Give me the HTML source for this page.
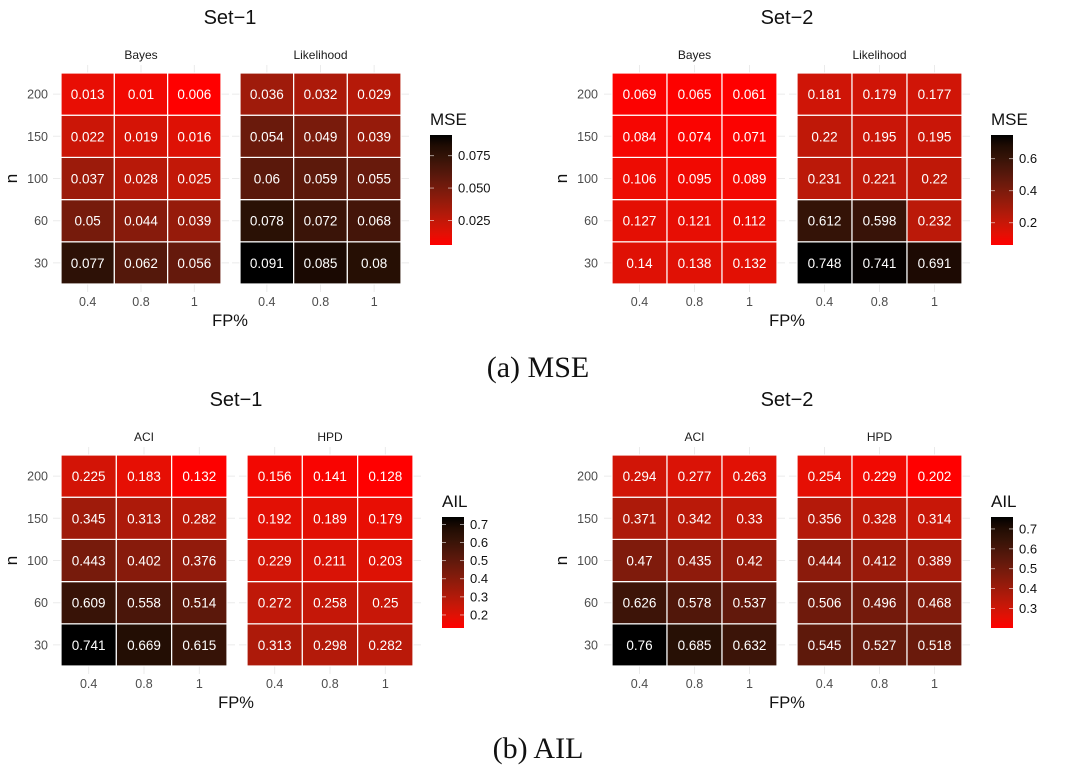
<!DOCTYPE html>
<html><head><meta charset="utf-8">
<style>
html,body{margin:0;padding:0;background:#fff;}
svg{display:block;font-family:"Liberation Sans",sans-serif;}
</style></head>
<body>
<svg id="fig" width="1083" height="774" viewBox="0 0 1083 774">
<text x="538" y="377" text-anchor="middle" font-family="Liberation Serif,serif" font-size="30" fill="#111">(a) MSE</text>
<text x="538" y="758" text-anchor="middle" font-family="Liberation Serif,serif" font-size="30" fill="#111">(b) AIL</text>
</svg>
<script>
const nLevels = ["30","60","100","150","200"];
const fpLevels = ["0.4","0.8","1"];
// values indexed [row n: 30,60,100,150,200][col fp: 0.4,0.8,1]
const mse1Bayes = [[0.077,0.062,0.056],[0.05,0.044,0.039],[0.037,0.028,0.025],[0.022,0.019,0.016],[0.013,0.01,0.006]];
const mse1Lik   = [[0.091,0.085,0.08],[0.078,0.072,0.068],[0.06,0.059,0.055],[0.054,0.049,0.039],[0.036,0.032,0.029]];
const mse2Bayes = [[0.14,0.138,0.132],[0.127,0.121,0.112],[0.106,0.095,0.089],[0.084,0.074,0.071],[0.069,0.065,0.061]];
const mse2Lik   = [[0.748,0.741,0.691],[0.612,0.598,0.232],[0.231,0.221,0.22],[0.22,0.195,0.195],[0.181,0.179,0.177]];
const ail1ACI = [[0.741,0.669,0.615],[0.609,0.558,0.514],[0.443,0.402,0.376],[0.345,0.313,0.282],[0.225,0.183,0.132]];
const ail1HPD = [[0.313,0.298,0.282],[0.272,0.258,0.25],[0.229,0.211,0.203],[0.192,0.189,0.179],[0.156,0.141,0.128]];
const ail2ACI = [[0.76,0.685,0.632],[0.626,0.578,0.537],[0.47,0.435,0.42],[0.371,0.342,0.33],[0.294,0.277,0.263]];
const ail2HPD = [[0.545,0.527,0.518],[0.506,0.496,0.468],[0.444,0.412,0.389],[0.356,0.328,0.314],[0.254,0.229,0.202]];
const legendTicks1 = [0.025,0.05,0.075];
const legendTickLabels1 = ["0.025","0.050","0.075"];
const legendTicks2 = [0.2,0.4,0.6];
const legendTickLabels2 = ["0.2","0.4","0.6"];
const legendTicks3 = [0.2,0.3,0.4,0.5,0.6,0.7];
const legendTickLabels3 = ["0.2","0.3","0.4","0.5","0.6","0.7"];
const legendTicks4 = [0.3,0.4,0.5,0.6,0.7];
const legendTickLabels4 = ["0.3","0.4","0.5","0.6","0.7"];

const NS="http://www.w3.org/2000/svg";
const svg=document.getElementById('fig');
function mk(tag,attrs,parent){const e=document.createElementNS(NS,tag);for(const k in attrs)e.setAttribute(k,attrs[k]);(parent||svg).appendChild(e);return e;}
function toLin(c){c/=255;return c<=0.04045?c/12.92:Math.pow((c+0.055)/1.055,2.4);}
function toS(c){c=c<=0.0031308?12.92*c:1.055*Math.pow(c,1/2.4)-0.055;return Math.max(0,Math.min(255,Math.round(c*255)));}
function rgb2lab(r,g,b){r=toLin(r);g=toLin(g);b=toLin(b);
 let x=(r*0.4124+g*0.3576+b*0.1805)/0.95047,y=(r*0.2126+g*0.7152+b*0.0722),z=(r*0.0193+g*0.1192+b*0.9505)/1.08883;
 const f=t=>t>0.008856?Math.cbrt(t):7.787*t+16/116;x=f(x);y=f(y);z=f(z);
 return [116*y-16,500*(x-y),200*(y-z)];}
function lab2rgb(L,a,bb){let y=(L+16)/116,x=a/500+y,z=y-bb/200;
 const fi=t=>t*t*t>0.008856?t*t*t:(t-16/116)/7.787;x=fi(x)*0.95047;y=fi(y);z=fi(z)*1.08883;
 const r=x*3.2406+y*-1.5372+z*-0.4986,g=x*-0.9689+y*1.8758+z*0.0415,b=x*0.0557+y*-0.2040+z*1.0570;
 return `rgb(${toS(r)},${toS(g)},${toS(b)})`;}
const LOW=rgb2lab(255,0,0),HIGH=rgb2lab(0,0,0);
function color(t){t=Math.max(0,Math.min(1,t));return lab2rgb(LOW[0]+(HIGH[0]-LOW[0])*t,LOW[1]+(HIGH[1]-LOW[1])*t,LOW[2]+(HIGH[2]-LOW[2])*t);}
let gid=0;

function plot(cfg){
 const all=cfg.data.flat(2);const mn=Math.min(...all),mx=Math.max(...all);
 const g=mk('g',{});
 
 
 const top=cfg.top,bottom=cfg.bottom,rh=(bottom-top)/nLevels.length;
 const t=mk('text',{x:cfg.titleX,y:top-49,'text-anchor':'middle','font-size':20,fill:'#111'},g);t.textContent=cfg.title;
 
 
 nLevels.forEach((lv,i)=>{const yc=bottom-(i+0.5)*rh;
  const tl=mk('text',{x:cfg.yLabX,y:yc+4.5,'text-anchor':'end','font-size':12.5,fill:'#4d4d4d'},g);tl.textContent=lv;
  
  
 });
 const yl=mk('text',{x:0,y:0,'text-anchor':'middle','font-size':17,fill:'#111',transform:`translate(${cfg.yLabX-31},${(top+bottom)/2}) rotate(-90)`},g);yl.textContent='n';
 
 
 cfg.panels.forEach((p,pi)=>{
  const cw=(p.x1-p.x0)/fpLevels.length;
  fpLevels.forEach((f,j)=>{const xc=p.x0+(j+0.5)*cw;mk('line',{x1:xc,x2:xc,y1:top-8,y2:bottom+8,stroke:'#ebebeb','stroke-width':1},g);});
  nLevels.forEach((lv,i)=>{const yc=bottom-(i+0.5)*rh;mk('line',{x1:p.x0-8,x2:p.x1+8,y1:yc,y2:yc,stroke:'#ebebeb','stroke-width':1},g);});
  const fl=mk('text',{x:(p.x0+p.x1)/2,y:top-14,'text-anchor':'middle','font-size':12,fill:'#1a1a1a'},g);fl.textContent=p.label;
  
  
  cfg.data[pi].forEach((row,i)=>row.forEach((v,j)=>{
   const x=p.x0+j*cw,y=bottom-(i+1)*rh;
   const r=mk('rect',{x:x,y:y,width:cw,height:rh,fill:color((v-mn)/(mx-mn)),stroke:'#fff','stroke-width':1.2},g);
   
   
   const tx=mk('text',{x:x+cw/2,y:y+rh/2+5,'text-anchor':'middle','font-size':13.5,fill:'#fff'},g);tx.textContent=String(v);
   
   
  }));
  fpLevels.forEach((f,j)=>{const xc=p.x0+(j+0.5)*cw;
   const xt=mk('text',{x:xc,y:bottom+22,'text-anchor':'middle','font-size':12.5,fill:'#4d4d4d'},g);xt.textContent=f;
   
   
  });
 });
 const xl=mk('text',{x:cfg.titleX,y:bottom+42,'text-anchor':'middle','font-size':16.5,fill:'#111'},g);xl.textContent='FP%';
 
 
 const L=cfg.legend;const id='lg'+(gid++);
 const defs=mk('defs',{},g);const lg=mk('linearGradient',{id:id,x1:0,y1:1,x2:0,y2:0},defs);
 for(let k=0;k<=10;k++)mk('stop',{offset:k/10,'stop-color':color(k/10)},lg);
 const lt=mk('text',{x:L.x,y:L.y0-10,'font-size':17,fill:'#111'},g);lt.textContent=cfg.legendTitle;
 
 
 const bar=mk('rect',{x:L.x,y:L.y0,width:22,height:L.y1-L.y0,fill:`url(#${id})`},g);
 
 
 cfg.ticks.forEach((tv,k)=>{const y=L.y1-(tv-mn)/(mx-mn)*(L.y1-L.y0);
  mk('line',{x1:L.x,x2:L.x+4,y1:y,y2:y,stroke:'#fff','stroke-width':0.8,opacity:0.7},g);
  mk('line',{x1:L.x+18,x2:L.x+22,y1:y,y2:y,stroke:'#fff','stroke-width':0.8,opacity:0.7},g);
  const lb=mk('text',{x:L.x+28,y:y+4.5,'font-size':13,fill:'#111'},g);lb.textContent=cfg.tickLabels[k];
  
  
 });
}
plot({name:'mse-set1',title:'Set\u22121',titleX:230,top:73,bottom:284,yLabX:48,
 panels:[{x0:61,x1:221,label:'Bayes'},{x0:240,x1:401,label:'Likelihood'}],data:[mse1Bayes,mse1Lik],
 legend:{x:430,y0:135,y1:245},legendTitle:'MSE',ticks:legendTicks1,tickLabels:legendTickLabels1});
plot({name:'mse-set2',title:'Set\u22122',titleX:787,top:73,bottom:284,yLabX:598,
 panels:[{x0:612,x1:777,label:'Bayes'},{x0:797,x1:962,label:'Likelihood'}],data:[mse2Bayes,mse2Lik],
 legend:{x:991,y0:135,y1:245},legendTitle:'MSE',ticks:legendTicks2,tickLabels:legendTickLabels2});
plot({name:'ail-set1',title:'Set\u22121',titleX:236,top:455,bottom:666,yLabX:48,
 panels:[{x0:61,x1:227,label:'ACI'},{x0:247,x1:413,label:'HPD'}],data:[ail1ACI,ail1HPD],
 legend:{x:442,y0:517,y1:628},legendTitle:'AIL',ticks:legendTicks3,tickLabels:legendTickLabels3});
plot({name:'ail-set2',title:'Set\u22122',titleX:787,top:455,bottom:666,yLabX:598,
 panels:[{x0:612,x1:777,label:'ACI'},{x0:797,x1:962,label:'HPD'}],data:[ail2ACI,ail2HPD],
 legend:{x:991,y0:517,y1:628},legendTitle:'AIL',ticks:legendTicks4,tickLabels:legendTickLabels4});
</script>
</body></html>
